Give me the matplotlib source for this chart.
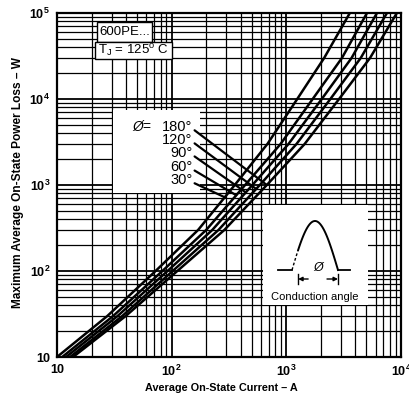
import numpy as np
import matplotlib
matplotlib.use('Agg')
import matplotlib.pyplot as plt
from matplotlib.ticker import LogLocator, FuncFormatter, NullFormatter
from matplotlib.patches import Rectangle

plt.rcParams['font.family'] = ['Liberation Sans', 'DejaVu Sans']
plt.rcParams['mathtext.fontset'] = 'custom'
plt.rcParams['mathtext.rm'] = 'Liberation Sans'
plt.rcParams['mathtext.bf'] = 'Liberation Sans:bold'
plt.rcParams['mathtext.it'] = 'Liberation Sans:italic'

# power loss levels (W) and the average current (A) each curve needs to reach them
power_w = [10, 30, 100, 300, 1000, 3000, 1e4, 3e4, 1e5]
current_180 = [13.8, 39.8, 112, 288, 676, 1445, 2884, 5370, 9200]
current_120 = [13.0, 37.1, 102, 256, 587, 1227, 2421, 4457, 7540]
current_90 = [12.0, 33.8, 92, 226, 506, 1045, 2037, 3707, 6170]
current_60 = [11.1, 30.9, 83, 200, 437, 891, 1698, 3055, 5050]
current_30 = [10.0, 27.5, 72.4, 170, 355, 684, 1245, 2138, 3580]

angle_labels = ['180°', '120°', '90°', '60°', '30°']
curves = [current_180, current_120, current_90, current_60, current_30]
# where each label's leader line meets its curve (W)
pointer_end_w = [1000, 900, 820, 760, 720]

fig = plt.figure(figsize=(4.09, 4.03), dpi=100)
ax = fig.add_axes([57/409, 46/403, 344/409, 344/403])
ax.set_xscale('log')
ax.set_yscale('log')
ax.set_xlim(10, 1e4)
ax.set_ylim(10, 1e5)

for cur in curves:
    ax.plot(cur, power_w, color='black', lw=1.8, zorder=3)

# dense graph-paper grid
for axis in (ax.xaxis, ax.yaxis):
    axis.set_major_locator(LogLocator(base=10, numticks=10))
    axis.set_minor_locator(LogLocator(base=10, subs=np.arange(2, 10), numticks=20))
    axis.set_minor_formatter(NullFormatter())
ax.grid(which='major', color='black', lw=1.3, zorder=0.5)
ax.grid(which='minor', color='black', lw=0.9, zorder=0.5)
ax.set_axisbelow(True)


def dec_label(v, pos):
    k = int(round(np.log10(v)))
    if k == 1:
        return '10'
    return '$\\mathbf{10^{%d}}$' % k


ax.xaxis.set_major_formatter(FuncFormatter(dec_label))
ax.yaxis.set_major_formatter(FuncFormatter(dec_label))
ax.tick_params(which='both', length=0, labelsize=9, pad=5)
for lab in ax.get_xticklabels() + ax.get_yticklabels():
    lab.set_fontweight('bold')
for sp in ax.spines.values():
    sp.set_linewidth(1.6)

# header boxes
ax.add_patch(Rectangle((0.116, 0.916), 0.16, 0.058, transform=ax.transAxes,
                       facecolor='white', edgecolor='black', lw=1.0, zorder=2))
ax.add_patch(Rectangle((0.110, 0.866), 0.224, 0.05, transform=ax.transAxes,
                       facecolor='white', edgecolor='black', lw=1.0, zorder=2))
ax.text(0.198, 0.945, '600PE...', transform=ax.transAxes, ha='center', va='center',
        fontsize=9.5, zorder=5)
ax.text(0.222, 0.890, 'T$_\\mathregular{J}$ = 125$^\\mathregular{o}$ C', transform=ax.transAxes,
        ha='center', va='center', fontsize=9.5, zorder=5)

# angle legend with leader lines
ax.add_patch(Rectangle((0.163, 0.477), 0.253, 0.241, transform=ax.transAxes,
                       facecolor='white', edgecolor='none', zorder=2))
ax.text(0.218, 0.669, 'Ø=', transform=ax.transAxes, ha='left', va='center',
        fontsize=10, style='italic', zorder=5)
label_y = [0.669, 0.631, 0.593, 0.552, 0.515]
for cur, lab, ly, pend in zip(curves, angle_labels, label_y, pointer_end_w):
    ax.text(0.394, ly, lab, transform=ax.transAxes, ha='right', va='center',
            fontsize=10.5, zorder=5)
    x_end = 10 ** np.interp(np.log10(pend), np.log10(power_w), np.log10(cur))
    ax.annotate('', xy=(x_end, pend), xycoords='data',
                xytext=(0.400, ly - 0.010), textcoords='axes fraction',
                arrowprops=dict(arrowstyle='-', lw=1.6, color='black',
                                shrinkA=0, shrinkB=0), zorder=4)

# conduction angle sketch
ins = fig.add_axes([263/409, 98/403, 105/409, 100/403])
ins.set_xlim(0, 105)
ins.set_ylim(0, 100)
ins.axis('off')
ins.add_patch(Rectangle((0, 0), 105, 100, facecolor='white', edgecolor='none'))
alpha = 0.42
t_off = np.linspace(0, alpha, 20)
t_on = np.linspace(alpha, np.pi, 80)
x0, base, amp, span = 29, 35, 49, 46
ins.plot(x0 + t_off / np.pi * span, base + amp * np.sin(t_off), color='black', lw=1.0, ls=(0, (2, 1.5)))
ins.plot(x0 + t_on / np.pi * span, base + amp * np.sin(t_on), color='black', lw=1.4)
ins.plot([15, x0], [base, base], color='black', lw=1.3)
ins.plot([x0 + span, x0 + span + 12], [base, base], color='black', lw=1.3)
xa = x0 + alpha / np.pi * span
xb = x0 + span
ins.plot([xa, xa], [21, 31], color='black', lw=1.0)
ins.plot([xb, xb], [21, 31], color='black', lw=1.0)
ins.annotate('', xy=(xa, 26), xytext=(xa + 10, 26),
             arrowprops=dict(arrowstyle='-|>', lw=1.0, color='black', mutation_scale=6,
                             shrinkA=0, shrinkB=0))
ins.annotate('', xy=(xb, 26), xytext=(xb - 11, 26),
             arrowprops=dict(arrowstyle='-|>', lw=1.0, color='black', mutation_scale=6,
                             shrinkA=0, shrinkB=0))
ins.text((xa + xb) / 2, 37, 'Ø', ha='center', va='center', fontsize=9, style='italic')
ins.text(52, 8, 'Conduction angle', ha='center', va='center', fontsize=8)

fig.text(18/409, 1 - 183/403, 'Maximum Average On-State Power Loss – W', rotation=90,
         ha='center', va='center', fontsize=8.6, fontweight='bold')
fig.text(221/409, 1 - 388/403, 'Average On-State Current – A', ha='center', va='center',
         fontsize=7.8, fontweight='bold')

fig.savefig('out.png', dpi=100)
